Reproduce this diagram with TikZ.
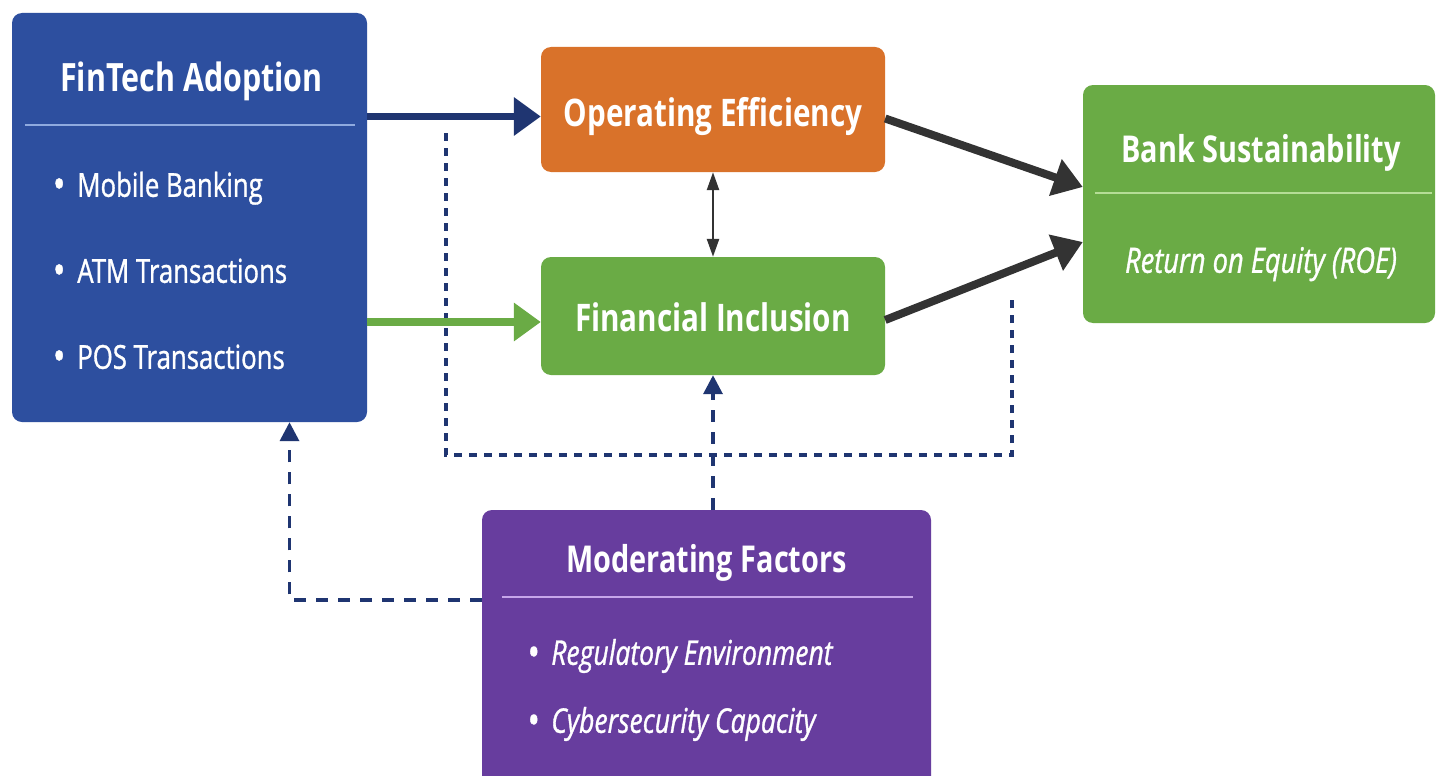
\documentclass[tikz,border=0pt]{standalone}
\usepackage{fontspec}
\setmainfont{Open Sans}[FakeStretch=0.78]
\newfontfamily\itemfont{Open Sans}[FakeStretch=0.78, FakeBold=1]
\usepackage{xcolor}
\usetikzlibrary{
    arrows.meta,
    positioning,
    calc
}
\definecolor{finblue}{HTML}{2D4F9F}
\definecolor{navyline}{HTML}{1F3571}
\definecolor{effiorange}{HTML}{D9722A}
\definecolor{inclgreen}{HTML}{6AAB45}
\definecolor{modpurple}{HTML}{673D9E}
\definecolor{darkarrow}{HTML}{333333}
\definecolor{finsep}{HTML}{8FAADF}
\definecolor{banksep}{HTML}{B5DD96}
\definecolor{modsep}{HTML}{C6A6EA}
% larger list dot
\newcommand\itemdot{\raisebox{-2pt}{\fontsize{42}{42}\selectfont\textbullet}\hspace{12pt}}
\tikzset{
    block/.style={
        rectangle,
        rounded corners=10pt,
        draw=none,
        inner sep=0pt
    },
    titletext/.style={
        text=white,
        inner sep=0pt,
        anchor=base,
        font=\bfseries\fontsize{37}{40}\selectfont
    },
    itemtext/.style={
        text=white,
        inner sep=0pt,
        anchor=base west,
        font=\itemfont\fontsize{33}{36}\selectfont
    },
    sepline/.style={
        line width=2.5pt
    },
    thickarrow/.style={
        -{Triangle[length=27pt,width=37pt]},
        line width=7.5pt
    },
    bigarrow/.style={
        -{Triangle[length=29pt,width=37pt]},
        line width=8pt,
        draw=darkarrow
    },
    linkarrow/.style={
        {Triangle[length=18pt,width=12pt]}-{Triangle[length=18pt,width=12pt]},
        line width=2.5pt,
        draw=darkarrow
    },
    dashline/.style={
        line width=3.5pt,
        draw=navyline,
        dash pattern=on 8pt off 7pt
    },
    dasharrow/.style={
        dashline,
        dash pattern=on 12pt off 10pt,
        -{Triangle[length=19pt,width=19pt]}
    }
}

\begin{document}
\begin{tikzpicture}[x=1pt, y=-1pt]
\useasboundingbox[fill=white] (0,0) rectangle (1437,776);
\clip (0,0) rectangle (1437,776);

% boxes
\node[block, fill=finblue, minimum width=355pt, minimum height=409pt] (fin) at (189.5,217.5) {};
\node[block, fill=effiorange, minimum width=344pt, minimum height=125pt] (oe) at (713,109.5) {};
\node[block, fill=inclgreen, minimum width=344pt, minimum height=118pt] (fi) at (713,316) {};
\node[block, fill=inclgreen, minimum width=352pt, minimum height=238pt] (bank) at (1259,204) {};
\node[block, fill=modpurple, minimum width=449pt, minimum height=280pt] (mod) at (706.5,650) {};

% FinTech adoption
\node[titletext, font=\bfseries\fontsize{39}{40}\selectfont] (fin-title) at ($(fin.north)+(2,79)$) {FinTech Adoption};
\draw[sepline, draw=finsep] ($(fin.north west)+(13,112)$) -- ($(fin.north east)+(-12,112)$);
\node[itemtext] (fin-mb) at ($(fin.north west)+(41,184)$) {\itemdot Mobile Banking};
\node[itemtext] (fin-atm) at ($(fin.north west)+(41,270)$) {\itemdot ATM Transactions};
\node[itemtext] (fin-pos) at ($(fin.north west)+(41,356)$) {\itemdot POS Transactions};

% mediators
\node[titletext, font=\bfseries\fontsize{38}{40}\selectfont] (oe-title) at ($(oe.north)+(0,80)$) {Operating Efficiency};
\node[titletext, font=\bfseries\fontsize{38}{40}\selectfont] (fi-title) at ($(fi.north)+(0,75)$) {Financial Inclusion};

% outcome
\node[titletext] (bank-title) at ($(bank.north)+(2,78)$) {Bank Sustainability};
\draw[sepline, draw=banksep] ($(bank.north west)+(12,108)$) -- ($(bank.north east)+(-3,108)$);
\node[itemtext, anchor=base, font=\itemfont\itshape\fontsize{35}{36}\selectfont] (bank-roe) at ($(bank.north)+(2,188)$) {Return on Equity (ROE)};

% moderators
\node[titletext] (mod-title) at ($(mod.north)+(0,63)$) {Moderating Factors};
\draw[sepline, draw=modsep] ($(mod.north west)+(20,87)$) -- ($(mod.north east)+(-18,87)$);
\node[itemtext, font=\itemfont\itshape\fontsize{34}{36}\selectfont] (mod-reg) at ($(mod.north west)+(45,155)$) {\itemdot Regulatory Environment};
\node[itemtext, font=\itemfont\itshape\fontsize{34}{36}\selectfont] (mod-cyb) at ($(mod.north west)+(45,223)$) {\itemdot Cybersecurity Capacity};

% dashed frame around the mediators
\coordinate (loop-a) at (446,133);
\coordinate (loop-b) at (446,455);
\coordinate (loop-c) at (1012,455);
\coordinate (loop-d) at (1012,295);
\draw[dashline] (loop-a) -- (loop-b) -- (loop-c) -- (loop-d);

% main paths
\coordinate (oe-in) at ([yshift=-7pt]oe.west);
\coordinate (fi-in) at ([yshift=-6pt]fi.west);
\draw[thickarrow, draw=navyline, fill=navyline] (fin.east |- oe-in) -- (oe-in);
\draw[thickarrow, draw=inclgreen, fill=inclgreen] (fin.east |- fi-in) -- (fi-in);
\draw[linkarrow] (oe.south) -- (fi.north);
\draw[bigarrow] ([yshift=-9pt]oe.east) -- ([yshift=17pt]bank.west);
\draw[bigarrow] ([yshift=-4pt]fi.east) -- ([yshift=-38pt]bank.west);

% moderating links
\coordinate (mod-out) at ([yshift=50pt]mod.west);
\draw[dasharrow] (mod.north -| fi.south) -- (fi.south);
\draw[dasharrow] (mod-out) -| ([xshift=100pt]fin.south);
\end{tikzpicture}
\end{document}
